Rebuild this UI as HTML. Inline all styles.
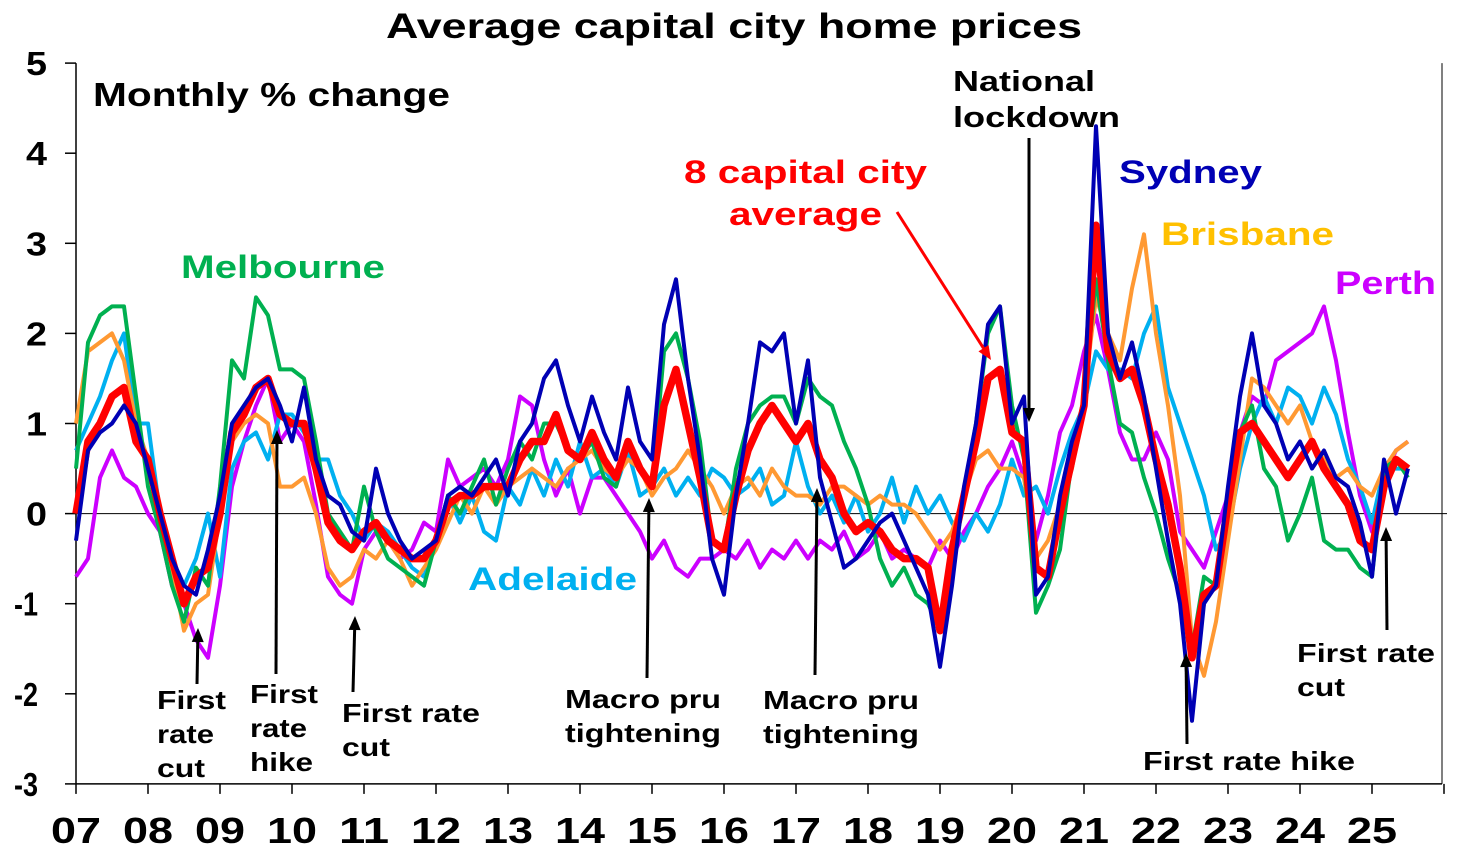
<!DOCTYPE html>
<html><head><meta charset="utf-8"><style>
body{margin:0;background:#fff;}
svg text{font-family:"Liberation Sans",Arial,sans-serif;font-weight:bold;}
</style></head><body>
<svg id="chart" width="1462" height="859" viewBox="0 0 1462 859" xmlns="http://www.w3.org/2000/svg">
<g id="axes"></g>
<g id="series"></g>
<g id="annots"></g>
</svg>
<script>
const years = ["07","08","09","10","11","12","13","14","15","16","17","18","19","20","21","22","23","24","25"];
const yTicks = [5,4,3,2,1,0,-1,-2,-3];
// bi-monthly values (Jan, Mar, May, Jul, Sep, Nov), 2007 - Jul 2025
const sydney = [-0.3,0.7,0.9,1.0,1.2,1.0, 0.5,0,-0.5,-0.8,-0.9,-0.4, 0.2,1.0,1.2,1.4,1.5,1.2, 0.8,1.4,0.6,0.2,0.1,-0.2, -0.3,0.5,0,-0.3,-0.5,-0.4, -0.3,0.2,0.3,0.2,0.4,0.6, 0.2,0.8,1.0,1.5,1.7,1.2, 0.8,1.3,0.9,0.6,1.4,0.8, 0.6,2.1,2.6,1.5,0.6,-0.5, -0.9,0.2,1.0,1.9,1.8,2.0, 1.0,1.7,0.4,-0.1,-0.6,-0.5, -0.3,-0.1,0,-0.3,-0.6,-0.9, -1.7,-0.8,0.3,1.0,2.1,2.3, 1.0,1.3,-0.9,-0.7,0.2,0.8, 1.2,4.3,2.0,1.5,1.9,1.3, 0.5,-0.3,-1.0,-2.3,-1.0,-0.8, 0.3,1.3,2.0,1.2,1.0,0.6, 0.8,0.5,0.7,0.4,0.3,-0.1, -0.7,0.6,0.0,0.5];
const melbourne = [0.5,1.9,2.2,2.3,2.3,1.3, 0.3,-0.2,-0.8,-1.2,-0.6,-0.8, 0.3,1.7,1.5,2.4,2.2,1.6, 1.6,1.5,0.8,0.0,-0.2,-0.4, 0.3,-0.2,-0.5,-0.6,-0.7,-0.8, -0.3,0.2,0.0,0.3,0.6,0.1, 0.5,0.8,0.6,1.0,1.0,0.7, 0.6,0.8,0.4,0.3,0.8,0.5, 0.3,1.8,2.0,1.5,0.8,-0.3, -0.4,0.5,1.0,1.2,1.3,1.3, 1.0,1.5,1.3,1.2,0.8,0.5, 0.1,-0.5,-0.8,-0.6,-0.9,-1.0, -1.3,-0.5,0.2,1.0,2.0,2.3, 1.2,0.6,-1.1,-0.8,-0.4,0.6, 1.3,2.6,1.7,1.0,0.9,0.4, 0.0,-0.5,-0.9,-1.5,-0.7,-0.8, 0.2,0.9,1.2,0.5,0.3,-0.3, 0.0,0.4,-0.3,-0.4,-0.4,-0.6, -0.7,0.5,0.6,0.4];
const brisbane = [1.0,1.8,1.9,2.0,1.7,1.0, 0.6,0.0,-0.6,-1.3,-1.0,-0.9, 0.0,0.8,1.0,1.1,1.0,0.3, 0.3,0.4,0.0,-0.6,-0.8,-0.7, -0.4,-0.5,-0.3,-0.5,-0.8,-0.6, -0.4,-0.1,0.2,0.0,0.3,0.1, 0.3,0.4,0.5,0.4,0.3,0.5, 0.6,0.7,0.5,0.4,0.6,0.5, 0.2,0.4,0.5,0.7,0.5,0.3, 0.0,0.3,0.4,0.2,0.5,0.3, 0.2,0.2,0.1,0.3,0.3,0.2, 0.1,0.2,0.1,0.1,0.0,-0.2, -0.4,-0.2,0.2,0.6,0.7,0.5, 0.5,0.4,-0.5,-0.3,0.1,0.5, 1.3,2.4,2.0,1.7,2.5,3.1, 2.0,1.2,0.2,-1.4,-1.8,-1.2, -0.3,0.6,1.5,1.4,1.2,1.0, 1.2,0.8,0.6,0.4,0.5,0.3, 0.2,0.5,0.7,0.8];
const adelaide = [0.7,1.0,1.3,1.7,2.0,1.0, 1.0,0.0,-0.5,-0.8,-0.5,0.0, -0.7,0.5,0.8,0.9,0.6,1.1, 1.1,0.9,0.6,0.6,0.2,0.0, -0.3,-0.1,-0.2,-0.4,-0.6,-0.7, -0.3,0.2,-0.1,0.2,-0.2,-0.3, 0.3,0.1,0.5,0.2,0.6,0.3, 0.8,0.4,0.5,0.3,0.7,0.2, 0.3,0.5,0.2,0.4,0.2,0.5, 0.4,0.2,0.3,0.5,0.1,0.2, 0.8,0.3,0.0,0.2,-0.1,0.2, -0.2,0.0,0.4,-0.1,0.3,0.0, 0.2,-0.1,-0.3,0.0,-0.2,0.1, 0.6,0.2,0.3,0.0,0.5,0.9, 1.2,1.8,1.6,1.6,1.5,2.0, 2.3,1.4,1.0,0.6,0.2,-0.4, -0.2,0.5,1.0,1.3,1.0,1.4, 1.3,1.0,1.4,1.1,0.6,0.3, -0.1,0.5,0.5,0.5];
const perth = [-0.7,-0.5,0.4,0.7,0.4,0.3, 0.0,-0.2,-0.8,-1.0,-1.4,-1.6, -0.8,0.3,0.8,1.2,1.5,0.8, 1.0,0.8,0.1,-0.7,-0.9,-1.0, -0.4,-0.2,-0.3,-0.5,-0.4,-0.1, -0.2,0.6,0.3,0.4,0.5,0.3, 0.6,1.3,1.2,0.6,0.2,0.5, 0.0,0.4,0.4,0.2,0.0,-0.2, -0.5,-0.3,-0.6,-0.7,-0.5,-0.5, -0.4,-0.5,-0.3,-0.6,-0.4,-0.5, -0.3,-0.5,-0.3,-0.4,-0.2,-0.5, -0.4,-0.2,-0.5,-0.4,-0.5,-0.6, -0.3,-0.5,-0.2,0.0,0.3,0.5, 0.8,0.4,-0.3,0.2,0.9,1.2, 1.8,2.2,1.6,0.9,0.6,0.6, 0.9,0.6,-0.2,-0.4,-0.6,-0.2, 0.2,0.9,1.3,1.2,1.7,1.8, 1.9,2.0,2.3,1.7,0.9,0.2, -0.2,0.4,0.7,0.8];
const capAvg = [0.0,0.8,1.0,1.3,1.4,0.8, 0.6,0.0,-0.5,-1.0,-0.7,-0.6, 0.0,0.9,1.1,1.4,1.5,1.1, 1.0,1.0,0.5,-0.1,-0.3,-0.4, -0.2,-0.1,-0.3,-0.4,-0.5,-0.5, -0.3,0.1,0.2,0.2,0.3,0.3, 0.3,0.6,0.8,0.8,1.1,0.7, 0.6,0.9,0.6,0.4,0.8,0.5, 0.3,1.2,1.6,1.0,0.4,-0.3, -0.4,0.2,0.7,1.0,1.2,1.0, 0.8,1.0,0.6,0.4,0.0,-0.2, -0.1,-0.2,-0.4,-0.5,-0.5,-0.6, -1.3,-0.4,0.2,0.8,1.5,1.6, 0.9,0.8,-0.6,-0.7,0.0,0.6, 1.2,3.2,1.8,1.5,1.6,1.2, 0.6,0.1,-0.6,-1.6,-0.9,-0.8, 0.1,0.9,1.0,0.8,0.6,0.4, 0.6,0.8,0.5,0.3,0.1,-0.3, -0.4,0.3,0.6,0.5];

const NS="http://www.w3.org/2000/svg";
const X0=76, YEARW=72, Y0=513.6, UNIT=90.1;
function xOfYear(t){return X0+t*YEARW;}
function xOfIdx(i){return xOfYear(i/6);}
function yOf(v){return Y0-v*UNIT;}
function mk(tag,attrs,parent,txt){const e=document.createElementNS(NS,tag);for(const k in attrs)e.setAttribute(k,attrs[k]);if(txt!==undefined)e.textContent=txt;parent.appendChild(e);return e;}

const axes=document.getElementById('axes');
const yAxis=mk('line',{x1:X0,y1:yOf(5),x2:X0,y2:yOf(-3),stroke:'#000','stroke-width':1.5},axes);


const xAxis=mk('line',{x1:X0,y1:yOf(-3),x2:1442,y2:yOf(-3),stroke:'#000','stroke-width':1.5},axes);


const rb=mk('line',{x1:1442,y1:yOf(5),x2:1442,y2:yOf(-3),stroke:'#000','stroke-width':1},axes);


const zl=mk('line',{x1:X0,y1:Y0,x2:1447,y2:Y0,stroke:'#000','stroke-width':1},axes);


yTicks.forEach(v=>{
  mk('line',{x1:X0-11,y1:yOf(v),x2:X0,y2:yOf(v),stroke:'#000','stroke-width':1.5},axes);
  const s=String(v);
  const t=mk('text',{x:v<0?14:26,y:yOf(v)+12,'font-size':33,textLength:v<0?24:21,lengthAdjust:'spacingAndGlyphs'},axes,s);
  
  
});
years.forEach((yr,i)=>{
  const x=xOfYear(i);
  mk('line',{x1:x,y1:yOf(-3),x2:x,y2:yOf(-3)+10,stroke:'#000','stroke-width':1.5},axes);
  const t=mk('text',{x:x-25,y:843,'font-size':36,textLength:50,lengthAdjust:'spacingAndGlyphs'},axes,yr);
  
  
});
mk('line',{x1:xOfYear(19),y1:yOf(-3),x2:xOfYear(19),y2:yOf(-3)+10,stroke:'#000','stroke-width':1.5},axes);

const seriesG=document.getElementById('series');
const defs=[[perth,'#cc00ff',4,'perth-line'],[adelaide,'#00b0f0',4,'adelaide-line'],[brisbane,'#ff9933',4,'brisbane-line'],[melbourne,'#00b050',4,'melbourne-line'],[capAvg,'#ff0000',7.5,'capital-average-line'],[sydney,'#0000b4',4,'sydney-line']];
defs.forEach(([arr,col,w,name])=>{
  const pts=arr.map((v,i)=>xOfIdx(i).toFixed(1)+','+yOf(v).toFixed(1)).join(' ');
  const p=mk('polyline',{points:pts,fill:'none',stroke:col,'stroke-width':w,'stroke-linejoin':'round'},seriesG);
  
  
});

const an=document.getElementById('annots');
// lines: [text, width]; x = left edge
function txt(lines,x,y,size,col,name,lh){
  const t=mk('text',{x:x,y:y,'font-size':size,fill:col},an);
  lines.forEach((l,i)=>mk('tspan',{x:x,y:y+i*lh,textLength:l[1],lengthAdjust:'spacingAndGlyphs'},t,l[0]));
  
  
}
function arrow(x1,y1,x2,y2,col,name){
  const g=mk('g',{},an);
  const a=Math.atan2(y2-y1,x2-x1),L=14,W=6;
  const bx=x2-L*Math.cos(a),by=y2-L*Math.sin(a);
  mk('line',{x1:x1,y1:y1,x2:bx,y2:by,stroke:col,'stroke-width':3},g);
  mk('polygon',{points:`${x2},${y2} ${bx+W*Math.sin(a)},${by-W*Math.cos(a)} ${bx-W*Math.sin(a)},${by+W*Math.cos(a)}`,fill:col},g);
  
  
}
txt([['Average capital city home prices',696]],386,38,35,'#000','chart-title',0);
txt([['Monthly % change',357]],93,106,33,'#000','y-axis-subtitle',0);
txt([['Melbourne',204]],181,278,32,'#00b050','melbourne-label',0);
txt([['Adelaide',169]],468,590,32,'#00b0f0','adelaide-label',0);
txt([['Sydney',143]],1119,183,32,'#0000b4','sydney-label',0);
txt([['Brisbane',173]],1161,245,32,'#ffc000','brisbane-label',0);
txt([['Perth',101]],1335,294,32,'#cc00ff','perth-label',0);
txt([['8 capital city',243]],684,183,32,'#ff0000','capital-average-label',0);
txt([['average',153]],729,225,32,'#ff0000','capital-average-label-2',0);
txt([['National',142],['lockdown',167]],953,91,29,'#000','lockdown-label',36);
txt([['First',69],['rate',57],['cut',48]],157,709,26,'#000','rate-cut-2008-label',34);
txt([['First',68],['rate',57],['hike',63]],250,703,26,'#000','rate-hike-2009-label',34);
txt([['First rate',138],['cut',48]],342,722,26,'#000','rate-cut-2011-label',34);
txt([['Macro pru',156],['tightening',156]],565,708,26,'#000','macro-pru-2014-label',34);
txt([['Macro pru',156],['tightening',156]],763,709,26,'#000','macro-pru-2017-label',34);
txt([['First rate hike',212]],1143,770,26,'#000','rate-hike-2022-label',0);
txt([['First rate',138],['cut',48]],1297,662,26,'#000','rate-cut-2025-label',34);
arrow(197,684,198,628,'#000','arrow-rate-cut-2008');
arrow(276,674,277,430,'#000','arrow-rate-hike-2009');
arrow(353,692,355,616,'#000','arrow-rate-cut-2011');
arrow(647,678,649,498,'#000','arrow-macro-pru-2014');
arrow(815,675,817,488,'#000','arrow-macro-pru-2017');
arrow(1029,138,1029,422,'#000','arrow-lockdown');
arrow(1187,744,1186,653,'#000','arrow-rate-hike-2022');
arrow(1387,630,1386,527,'#000','arrow-rate-cut-2025');
arrow(897,212,991,360,'#ff0000','arrow-capital-average');
</script>
</body></html>
